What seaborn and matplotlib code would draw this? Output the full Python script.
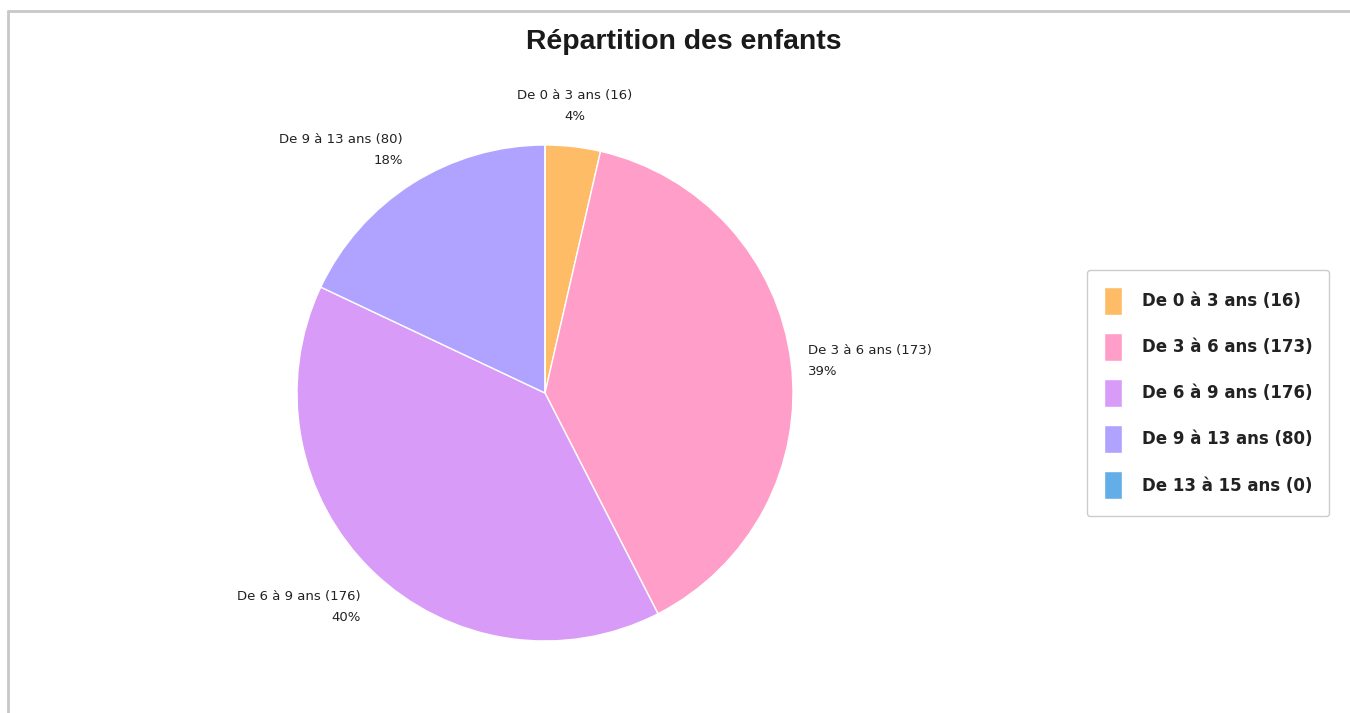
import matplotlib
matplotlib.use("Agg")
import matplotlib.pyplot as plt
from matplotlib.lines import Line2D
import numpy as np
import seaborn as sns

# data
categories = ["De 0 à 3 ans", "De 3 à 6 ans", "De 6 à 9 ans", "De 9 à 13 ans", "De 13 à 15 ans"]
counts = [16, 173, 176, 80, 0]
colors = ["#FFBC66", "#FF9EC8", "#D89CF8", "#B0A3FF", "#64AEE8"]

sns.set_theme(style="white")
plt.rcParams["font.family"] = ["DejaVu Sans"]
palette = sns.color_palette(colors)

fig = plt.figure(figsize=(13.5, 7.13), dpi=100)
ax = fig.add_axes([297 / 1350, 1 - 641 / 713, 496 / 1350, 496 / 713])

wedges, _ = ax.pie(counts, colors=palette, startangle=90, counterclock=False,
                   radius=1, wedgeprops=dict(edgecolor="white", linewidth=1))
ax.set_xlim(-1, 1)
ax.set_ylim(-1, 1)
ax.set_aspect("equal")
ax.axis("off")

total = sum(counts)
for w, cat, n in zip(wedges, categories, counts):
    if n == 0:
        continue
    ang = np.deg2rad((w.theta1 + w.theta2) / 2)
    c, s = np.cos(ang), np.sin(ang)
    x, y = 1.07 * c, 1.18 * s - 0.015
    if abs(c) < 0.2:
        ha = "center"
    elif c > 0:
        ha = "left"
    else:
        ha = "right"
    pct = round(n / total * 100)
    ax.text(x, y, f"{cat} ({n})\n{pct}%", ha=ha, va="center", multialignment=ha,
            fontsize=9.5, color="#222222", linespacing=1.8, clip_on=False)

fig.text(684 / 1350, 1 - 42 / 713, "Répartition des enfants", ha="center", va="center",
         fontsize=20.4, fontweight="bold", color="#1a1a1a",
         family=["Liberation Sans", "DejaVu Sans"])

leg = fig.legend(wedges, [f"{c} ({n})" for c, n in zip(categories, counts)],
                 loc="upper left", bbox_to_anchor=(1087 / 1350, 1 - 270 / 713),
                 prop=dict(size=12, weight="bold"), frameon=True, fancybox=True,
                 edgecolor="#cccccc", framealpha=1, handlelength=1.08, handleheight=2.21,
                 labelspacing=1.09, handletextpad=1.2, borderpad=1.0, borderaxespad=0)
for t in leg.get_texts():
    t.set_color("#222222")

# panel border
fig.add_artist(Line2D([8 / 1350, 8 / 1350], [0, 1 - 11 / 713], color="#c8c8c8", lw=2))
fig.add_artist(Line2D([8 / 1350, 1], [1 - 11 / 713, 1 - 11 / 713], color="#c8c8c8", lw=2))

fig.savefig("out.png", dpi=100)
